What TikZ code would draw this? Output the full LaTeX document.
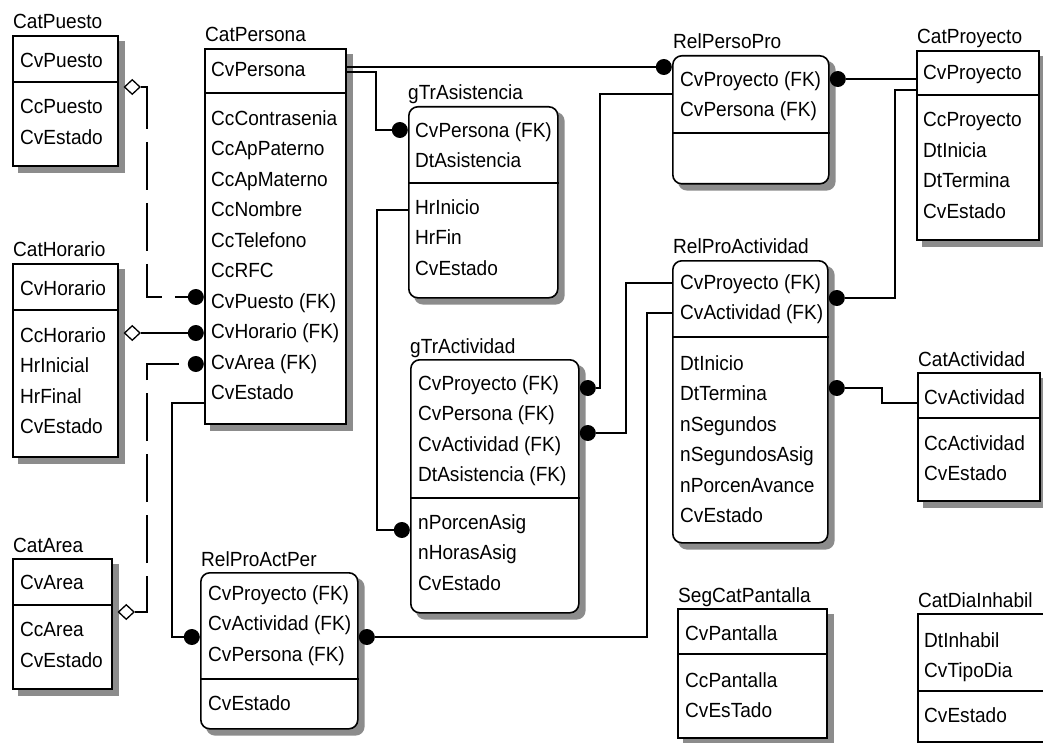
\documentclass[tikz,border=0pt]{standalone}
\usepackage{fontspec}
\setmainfont{Liberation Sans}[FakeStretch=0.93]
\usetikzlibrary{shapes.geometric,backgrounds}

\begin{document}
\begin{tikzpicture}[x=1pt,y=-1pt,
        ent/.style={draw, line width=1.6pt, fill=white, anchor=north west, inner sep=0},
        rel/.style={ent, rounded corners=9pt},
        shade/.style={fill=black!45},
        ttl/.style={anchor=base west, inner sep=0, font=\fontsize{20.5pt}{22pt}\selectfont},
        fld/.style={anchor=north west, inner sep=0, align=left, font=\fontsize{20.5pt}{30.5pt}\selectfont},
        conn/.style={line width=1.6pt},
        nonid/.style={conn, dash pattern=on 48pt off 13pt},
        fkdot/.style={circle, fill=black, inner sep=0, minimum size=16pt},
        opend/.style={diamond, draw, fill=white, line width=1.3pt, inner sep=0, minimum width=16pt, minimum height=15pt}]
        \useasboundingbox (0,0) rectangle (1043,743);

        % Draw the catalogue tables on the left
        \node[ttl] (puesto-t) at (13,29) {CatPuesto};
        \node[ent, minimum width=105pt, minimum height=130pt] (puesto) at (12,35) {};
        \draw[conn] (puesto.west |- 0,82) -- (puesto.east |- 0,82);
        \node[fld] (puesto-k) at (20,53) {CvPuesto};
        \node[fld] (puesto-a) at (20,99) {CcPuesto\\CvEstado};

        \node[ttl] (horario-t) at (13,257) {CatHorario};
        \node[ent, minimum width=105pt, minimum height=193pt] (horario) at (12,263) {};
        \draw[conn] (horario.west |- 0,310) -- (horario.east |- 0,310);
        \node[fld] (horario-k) at (20,280) {CvHorario};
        \node[fld] (horario-a) at (20,327) {CcHorario\\HrInicial\\HrFinal\\CvEstado};

        \node[ttl] (area-t) at (13,552) {CatArea};
        \node[ent, minimum width=99pt, minimum height=130pt] (area) at (12,558) {};
        \draw[conn] (area.west |- 0,605) -- (area.east |- 0,605);
        \node[fld] (area-k) at (20,575) {CvArea};
        \node[fld] (area-a) at (20,622) {CcArea\\CvEstado};

        % CatPersona
        \node[ttl] (persona-t) at (205,42) {CatPersona};
        \node[ent, minimum width=141pt, minimum height=375pt] (persona) at (204,48) {};
        \draw[conn] (persona.west |- 0,93) -- (persona.east |- 0,93);
        \node[fld] (persona-k) at (211,62) {CvPersona};
        \node[fld] (persona-a) at (211,110) {CcContrasenia\\CcApPaterno\\CcApMaterno\\CcNombre\\CcTelefono\\CcRFC\\CvPuesto (FK)\\CvHorario (FK)\\CvArea (FK)\\CvEstado};

        % Relation tables in the middle
        \node[ttl] (actper-t) at (201,566) {RelProActPer};
        \node[rel, minimum width=157pt, minimum height=156pt] (actper) at (200,572) {};
        \draw[conn] (actper.west |- 0,679) -- (actper.east |- 0,679);
        \node[fld] (actper-k) at (208,585) {CvProyecto (FK)\\CvActividad (FK)\\CvPersona (FK)};
        \node[fld] (actper-a) at (208,695) {CvEstado};

        \node[ttl] (asist-t) at (408,100) {gTrAsistencia};
        \node[rel, minimum width=149pt, minimum height=191pt] (asist) at (408,106) {};
        \draw[conn] (asist.west |- 0,183) -- (asist.east |- 0,183);
        \node[fld] (asist-k) at (415,122) {CvPersona (FK)\\DtAsistencia};
        \node[fld] (asist-a) at (415,199) {HrInicio\\HrFin\\CvEstado};

        \node[ttl] (tract-t) at (410,353) {gTrActividad};
        \node[rel, minimum width=168pt, minimum height=253pt] (tract) at (410,359) {};
        \draw[conn] (tract.west |- 0,498) -- (tract.east |- 0,498);
        \node[fld] (tract-k) at (418,375) {CvProyecto (FK)\\CvPersona (FK)\\CvActividad (FK)\\DtAsistencia (FK)};
        \node[fld] (tract-a) at (418,514) {nPorcenAsig\\nHorasAsig\\CvEstado};

        \node[ttl] (persopro-t) at (673,49) {RelPersoPro};
        \node[rel, minimum width=156pt, minimum height=128pt] (persopro) at (672,55) {};
        \draw[conn] (persopro.west |- 0,133) -- (persopro.east |- 0,133);
        \node[fld] (persopro-k) at (680,71) {CvProyecto (FK)\\CvPersona (FK)};

        \node[ttl] (proact-t) at (673,254) {RelProActividad};
        \node[rel, minimum width=155pt, minimum height=282pt] (proact) at (672,260) {};
        \draw[conn] (proact.west |- 0,337) -- (proact.east |- 0,337);
        \node[fld] (proact-k) at (680,274) {CvProyecto (FK)\\CvActividad (FK)};
        \node[fld] (proact-a) at (680,355) {DtInicio\\DtTermina\\nSegundos\\nSegundosAsig\\nPorcenAvance\\CvEstado};

        % Catalogue tables on the right
        \node[ttl] (proyecto-t) at (917,44) {CatProyecto};
        \node[ent, minimum width=122pt, minimum height=189pt] (proyecto) at (916,50) {};
        \draw[conn] (proyecto.west |- 0,95) -- (proyecto.east |- 0,95);
        \node[fld] (proyecto-k) at (923,65) {CvProyecto};
        \node[fld] (proyecto-a) at (923,112) {CcProyecto\\DtInicia\\DtTermina\\CvEstado};

        \node[ttl] (actividad-t) at (918,366) {CatActividad};
        \node[ent, minimum width=122pt, minimum height=128pt] (actividad) at (917,372) {};
        \draw[conn] (actividad.west |- 0,418) -- (actividad.east |- 0,418);
        \node[fld] (actividad-k) at (924,389) {CvActividad};
        \node[fld] (actividad-a) at (924,435) {CcActividad\\CvEstado};

        \node[ttl] (pantalla-t) at (678,602) {SegCatPantalla};
        \node[ent, minimum width=149pt, minimum height=129pt] (pantalla) at (677,608) {};
        \draw[conn] (pantalla.west |- 0,654) -- (pantalla.east |- 0,654);
        \node[fld] (pantalla-k) at (685,625) {CvPantalla};
        \node[fld] (pantalla-a) at (685,672) {CcPantalla\\CvEsTado};

        \begin{scope}
            \clip (0,0) rectangle (1043,743);
            \node[ttl] (diainh-t) at (918,607) {CatDiaInhabil};
            \node[ent, minimum width=150pt, minimum height=128pt] (diainh) at (917,613) {};
            \draw[conn] (diainh.west |- 0,691) -- (diainh.east |- 0,691);
            \node[fld] (diainh-k) at (924,632) {DtInhabil\\CvTipoDia};
            \node[fld] (diainh-a) at (924,707) {CvEstado};
        \end{scope}

        % Shadows behind the tables
        \begin{scope}[on background layer]
            \foreach \t in {puesto,horario,area,persona,proyecto,actividad,pantalla}
                \fill[shade] ([shift={(6pt,-6pt)}]\t.south west) rectangle ([shift={(6pt,-6pt)}]\t.north east);
            \foreach \t in {actper,asist,tract,persopro,proact}
                \fill[shade, rounded corners=9pt] ([shift={(6pt,-6pt)}]\t.south west) rectangle ([shift={(6pt,-6pt)}]\t.north east);
        \end{scope}

        % Identifying relationships
        \node[fkdot, anchor=east] (d-persopro) at (persopro.west |- 0,67) {};
        \draw[conn] (persona.east |- 0,67) -- (d-persopro);
        \node[fkdot, anchor=east] (d-asist) at (asist.west |- 0,130) {};
        \draw[conn] (persona.east |- 0,72) -| (376,130) -- (d-asist);
        \node[fkdot, anchor=east] (d-tract1) at (tract.west |- 0,530) {};
        \draw[conn] (asist.west |- 0,210) -| (377,530) -- (d-tract1);
        \node[fkdot, anchor=east] (d-actper1) at (actper.west |- 0,637) {};
        \draw[conn] (persona.west |- 0,403) -| (172,637) -- (d-actper1);
        \node[fkdot, anchor=west] (d-actper2) at (actper.east |- 0,637) {};
        \draw[conn] (d-actper2) -| (647,313) -- (proact.west |- 0,313);
        \node[fkdot, anchor=west] (d-tract2) at (tract.east |- 0,388) {};
        \draw[conn] (persopro.west |- 0,94) -| (600,388) -- (d-tract2);
        \node[fkdot, anchor=west] (d-tract3) at (tract.east |- 0,433) {};
        \draw[conn] (proact.west |- 0,283) -| (626,433) -- (d-tract3);
        \node[fkdot, anchor=west] (d-persopro2) at (persopro.east |- 0,79) {};
        \draw[conn] (d-persopro2) -- (proyecto.west |- 0,79);
        \node[fkdot, anchor=west] (d-proact1) at (proact.east |- 0,298) {};
        \draw[conn] (proyecto.west |- 0,90) -| (895,298) -- (d-proact1);
        \node[fkdot, anchor=west] (d-proact2) at (proact.east |- 0,388) {};
        \draw[conn] (d-proact2) -| (882,403) -- (actividad.west |- 0,403);

        % Non-identifying relationships (dashed)
        \node[fkdot, anchor=east] (d-puesto) at (persona.west |- 0,297) {};
        \node[opend, anchor=west, xshift=5pt] (o-puesto) at (puesto.east |- 0,87) {};
        \draw[nonid] (o-puesto) -| (147,297) -- (d-puesto);
        \node[fkdot, anchor=east] (d-horario) at (persona.west |- 0,333) {};
        \node[opend, anchor=west, xshift=5pt] (o-horario) at (horario.east |- 0,333) {};
        \draw[nonid] (o-horario) -- (d-horario);
        \node[fkdot, anchor=east] (d-area) at (persona.west |- 0,364) {};
        \node[opend, anchor=west, xshift=5pt] (o-area) at (area.east |- 0,612) {};
        \draw[nonid] (o-area) -| (147,364) -- (d-area);
    \end{tikzpicture}
\end{document}
